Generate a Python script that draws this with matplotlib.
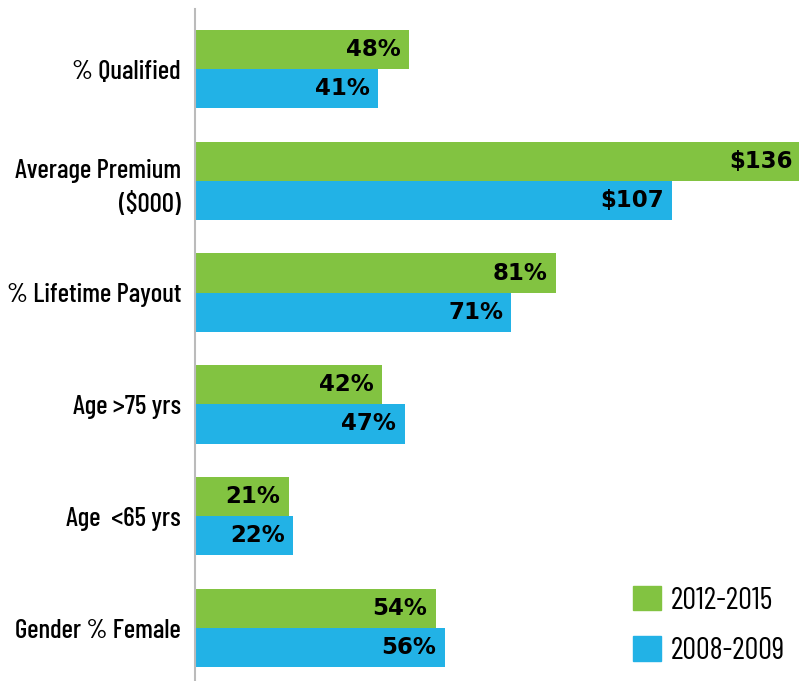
import matplotlib
matplotlib.use("Agg")
import matplotlib.pyplot as plt
from matplotlib.patches import Patch
import numpy as np

categories = ["% Qualified", "Average Premium\n($000)", "% Lifetime Payout",
              "Age >75 yrs", "Age  <65 yrs", "Gender % Female"]
recent = [48, 136, 81, 42, 21, 54]      # 2012-2015
earlier = [41, 107, 71, 47, 22, 56]     # 2008-2009
recent_labels = ["48%", "$136", "81%", "42%", "21%", "54%"]
earlier_labels = ["41%", "$107", "71%", "47%", "22%", "56%"]
series_names = ["2012-2015", "2008-2009"]

green = "#82C341"
blue = "#22B2E6"
cond = ["Barlow Condensed", "DejaVu Sans"]

fig = plt.figure(figsize=(7.99, 6.81), dpi=100)
ax = fig.add_axes([195 / 799, 0, 1 - 195 / 799, 1 - 9 / 681])

y = np.arange(len(categories))
h = 0.35
ax.barh(y - h / 2, recent, height=h, color=green)
ax.barh(y + h / 2, earlier, height=h, color=blue)

for yi, v, lab in zip(y - h / 2, recent, recent_labels):
    ax.annotate(lab, (v, yi), xytext=(-6, 0), textcoords="offset points",
                ha="right", va="center", fontsize=16.5, fontweight="bold",
                family="DejaVu Sans", annotation_clip=False)
for yi, v, lab in zip(y + h / 2, earlier, earlier_labels):
    ax.annotate(lab, (v, yi), xytext=(-6, 0), textcoords="offset points",
                ha="right", va="center", fontsize=16.5, fontweight="bold",
                family="DejaVu Sans", annotation_clip=False)

ax.set_xlim(0, 135.5)
ax.set_ylim(5.474, -0.537)
ax.set_yticks(y)
ax.set_yticklabels(categories, fontsize=19.5, family=cond, fontweight="medium",
                   linespacing=1.45)
ax.tick_params(axis="y", length=0, pad=10)
ax.set_xticks([])
for s in ["top", "right", "bottom"]:
    ax.spines[s].set_visible(False)
ax.spines["left"].set_color("#BBBBBB")
ax.spines["left"].set_linewidth(1.5)

handles = [Patch(color=green), Patch(color=blue)]
ax.legend(handles, series_names, loc="lower left",
          bbox_to_anchor=((633 - 195) / 604, 16 / 672),
          frameon=False, prop={"family": cond, "size": 22},
          borderaxespad=0, borderpad=0,
          handlelength=0.92, handleheight=0.85, labelspacing=0.7, handletextpad=0.33)

fig.savefig("out.png", dpi=100)
